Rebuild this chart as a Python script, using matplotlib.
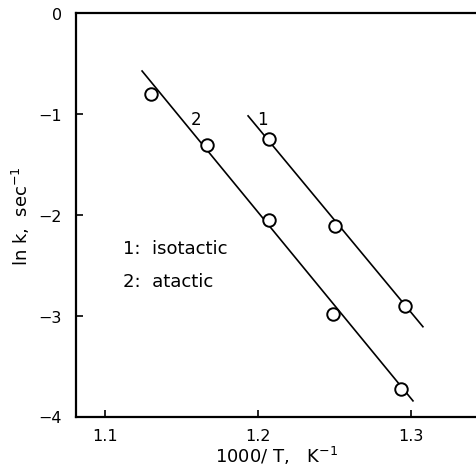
import matplotlib
matplotlib.use("Agg")
import matplotlib.pyplot as plt

# data
iso_x = [1.207, 1.250, 1.296]
iso_y = [-1.25, -2.11, -2.90]
ata_x = [1.130, 1.1665, 1.207, 1.249, 1.2935]
ata_y = [-0.80, -1.305, -2.05, -2.98, -3.73]
# fitted lines (end points)
iso_line_x = [1.1935, 1.3078]
iso_line_y = [-1.02, -3.11]
ata_line_x = [1.1242, 1.3013]
ata_line_y = [-0.575, -3.845]

xticks = [1.1, 1.2, 1.3]
xticklabels = ["1.1", "1.2", "1.3"]
yticks = [0, -1, -2, -3, -4]
yticklabels = ["0", "\u22121", "\u22122", "\u22123", "\u22124"]

plt.rcParams['font.family'] = ['DejaVu Sans']
fig = plt.figure(figsize=(4.76, 4.77), dpi=100)
ax = fig.add_axes([76/476, 1-417.5/477, 1-76/476, (417.5-14)/477])

ax.plot(ata_line_x, ata_line_y, color='black', lw=1.2)
ax.plot(iso_line_x, iso_line_y, color='black', lw=1.2)
ax.plot(ata_x, ata_y, 'o', mfc='white', mec='black', mew=1.4, ms=9, zorder=3)
ax.plot(iso_x, iso_y, 'o', mfc='white', mec='black', mew=1.4, ms=9, zorder=3)

ax.text(1.1595, -1.05, "2", fontsize=12, ha='center', va='center')
ax.text(1.2026, -1.05, "1", fontsize=12, ha='center', va='center')
ax.text(1.112, -2.33, "1:  isotactic", fontsize=13, ha='left', va='center')
ax.text(1.112, -2.66, "2:  atactic", fontsize=13, ha='left', va='center')

ax.set_xlim(1.081, 1.3425)
ax.set_ylim(-4, 0)
ax.set_xticks(xticks)
ax.set_xticklabels(xticklabels)
ax.set_yticks(yticks)
ax.set_yticklabels(yticklabels)
ax.tick_params(direction='in', length=5, width=1.2, labelsize=11.5, pad=8)
ax.tick_params(axis='y', pad=10)
for s in ['left', 'top', 'bottom']:
    ax.spines[s].set_linewidth(1.6)
ax.spines['right'].set_visible(False)

ax.set_xlabel("1000/ T,   K$^{-1}$", fontsize=13, labelpad=1)
ax.set_ylabel("ln k,  sec$^{-1}$", fontsize=13, labelpad=5)

fig.savefig("out.png", dpi=100)
